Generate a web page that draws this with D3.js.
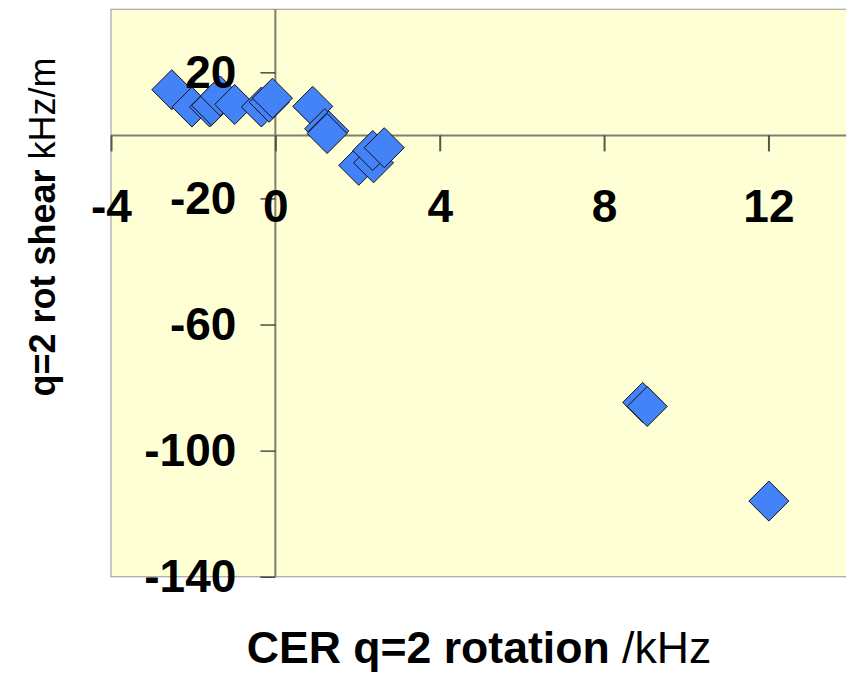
<!DOCTYPE html>
<html>
<head>
<meta charset="utf-8">
<script src="https://cdn.jsdelivr.net/npm/d3@7"></script>
<style>
  html, body { margin: 0; padding: 0; background: #ffffff; }
  svg { display: block; font-family: "Liberation Sans", Arial, sans-serif; }
</style>
</head>
<body>
<svg id="chart" width="846" height="676"></svg>
<script>
// CER q=2 rotation (kHz) against q=2 rotation shear (kHz/m)
const rotation = [-2.52, -2.03, -1.60, -1.55, -1.34, -0.99, -0.34, -0.15, -0.07,
                  0.91, 1.20, 1.30, 1.26, 2.03, 2.39, 2.37, 2.65,
                  8.94, 9.05, 12.01];
const shear    = [14.5, 9.0, 9.0, 9.5, 12.5, 9.8, 9.0, 10.5, 11.8,
                  9.2, 2.1, 1.4, 0.6, -9.5, -8.7, -4.8, -3.9,
                  -84.7, -86.0, -116.0];
const xTicks = [-4, 0, 4, 8, 12];
const yTicks = [-140, -100, -60, -20, 20];

const svg = d3.select("#chart");
const plot = { left: 111, top: 9.3, right: 932.8, bottom: 576.7 };

const x = d3.scaleLinear().domain([-4, 16]).range([plot.left, plot.right]);
const y = d3.scaleLinear().domain([-140, 40]).range([plot.bottom, plot.top]);

// plain hyphen-minus labels
const fmt = d => String(d);

// plot background
svg.append("rect")
  .attr("x", plot.left).attr("y", plot.top)
  .attr("width", plot.right - plot.left).attr("height", plot.bottom - plot.top)
  .attr("fill", "#ffffd6").attr("stroke", "#a6a6a6").attr("stroke-width", 1.2);

// axis lines crossing at the origin
svg.append("line")
  .attr("x1", plot.left).attr("x2", plot.right)
  .attr("y1", y(0)).attr("y2", y(0))
  .attr("stroke", "#7f7f6c").attr("stroke-width", 2);
svg.append("line")
  .attr("x1", x(0)).attr("x2", x(0))
  .attr("y1", plot.top).attr("y2", plot.bottom)
  .attr("stroke", "#7f7f6c").attr("stroke-width", 2);

// data points as diamonds
const pts = rotation.map((r, i) => ({ x: r, y: shear[i] }));
const diamond = "M0,-20L20,0L0,20L-20,0Z";
svg.append("g").selectAll("path")
  .data(pts)
  .join("path")
  .attr("d", diamond)
  .attr("transform", d => `translate(${x(d.x)},${y(d.y)})`)
  .attr("fill", "#4482f8")
  .attr("stroke", "#111111")
  .attr("stroke-width", 1);

// y axis ticks and labels
const yAxis = svg.append("g")
  .attr("transform", `translate(${x(0)},0)`)
  .call(d3.axisLeft(y).tickValues(yTicks).tickSize(15).tickPadding(24).tickFormat(fmt));
yAxis.select(".domain").remove();
yAxis.selectAll(".tick line").attr("stroke", "#222").attr("stroke-width", 1.2);
yAxis.selectAll(".tick text")
  .attr("font-size", 46).attr("font-weight", "bold").attr("fill", "#000")
  .attr("font-family", "'Liberation Sans', Arial, sans-serif");

// x axis ticks and labels
const xAxis = svg.append("g")
  .attr("transform", `translate(0,${y(0)})`)
  .call(d3.axisBottom(x).tickValues(xTicks).tickSize(16).tickPadding(0).tickFormat(fmt));
xAxis.select(".domain").remove();
xAxis.selectAll(".tick line").attr("stroke", "#555548").attr("stroke-width", 2);
xAxis.selectAll(".tick text")
  .attr("y", 222 - y(0)).attr("dy", null)
  .attr("font-size", 46).attr("font-weight", "bold").attr("fill", "#000")
  .attr("font-family", "'Liberation Sans', Arial, sans-serif");

// axis titles
const xTitle = svg.append("text")
  .attr("x", 479).attr("y", 663)
  .attr("text-anchor", "middle")
  .attr("font-size", 44.6).attr("fill", "#000");
xTitle.append("tspan").attr("font-weight", "bold").text("CER q=2 rotation ");
xTitle.append("tspan").text("/kHz");

const yTitle = svg.append("text")
  .attr("transform", "translate(55,227) rotate(-90)")
  .attr("text-anchor", "middle")
  .attr("font-size", 36).attr("fill", "#000");
yTitle.append("tspan").attr("font-weight", "bold").text("q=2 rot shear ");
yTitle.append("tspan").text("kHz/m");
</script>
</body>
</html>
